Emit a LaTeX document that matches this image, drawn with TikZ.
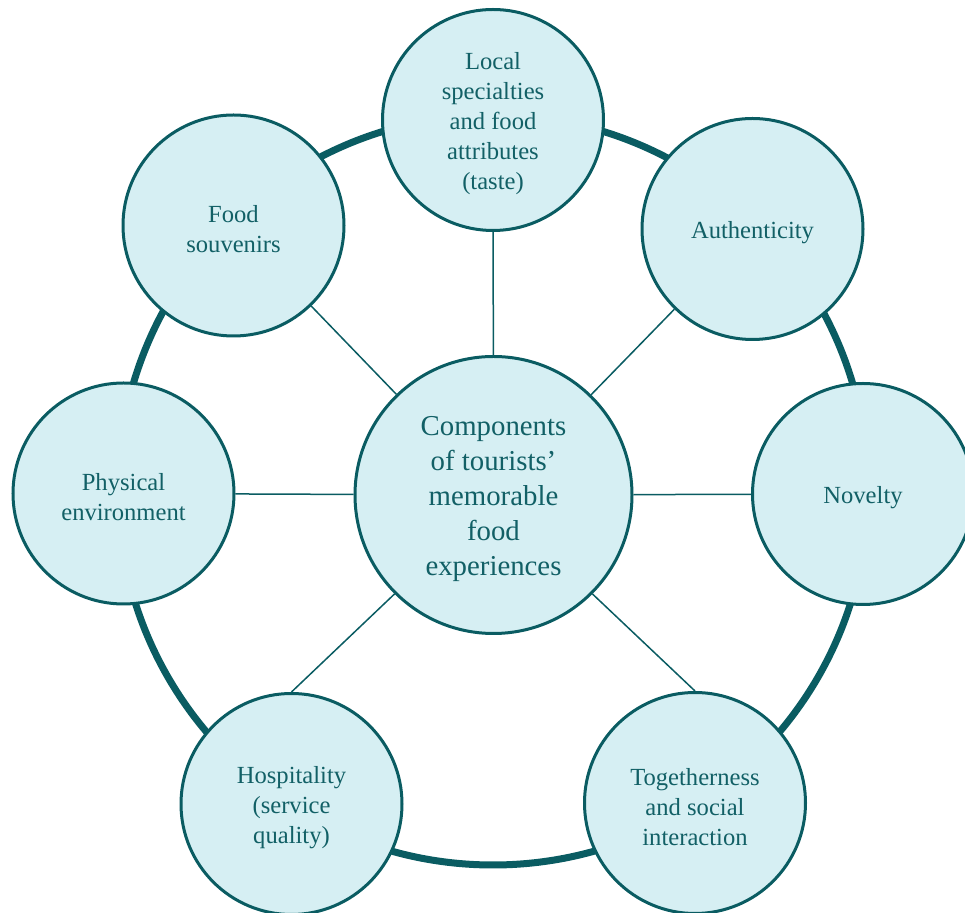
\documentclass[tikz,border=0pt]{standalone}
\usepackage{fontspec}
\setmainfont{Liberation Serif}
\usetikzlibrary{backgrounds}
\definecolor{teal}{RGB}{10,92,98}
\definecolor{tealtext}{RGB}{18,96,102}
\definecolor{paleblue}{RGB}{214,239,243}
\begin{document}
\begin{tikzpicture}[x=0.5pt,y=-0.5pt,
  bubble/.style={circle,draw=teal,fill=paleblue,line width=1.5pt,inner sep=0pt},
  hub/.style={bubble,minimum size=138.5pt},
  part/.style={bubble,minimum size=110.5pt},
  hubtext/.style={align=center,text=tealtext,inner sep=0pt,
    font=\fontsize{14.4}{17.4}\selectfont},
  parttext/.style={align=center,text=tealtext,inner sep=0pt,
    font=\fontsize{12.3}{15}\selectfont},
  spoke/.style={draw=teal,line width=0.75pt},
  ring/.style={draw=teal,line width=3.5pt}]
\useasboundingbox (0,0) rectangle (965,913);
% centre
\node[hub] (c) at (493.5,495) {};
\node[hubtext] (ct) at ([yshift=-2pt]c.center) {Components\\of tourists'\\memorable\\food\\experiences};
% surrounding components
\node[part] (local) at (493,120) {};
\node[part] (auth) at (752.5,229) {};
\node[part] (nov) at (863,494) {};
\node[part] (tog) at (695,803) {};
\node[part] (hosp) at (291.5,804) {};
\node[part] (phys) at (123.5,493.5) {};
\node[part] (souv) at (233.5,225.5) {};
\node[parttext] (localt) at ([yshift=-2pt]local.center) {Local\\specialties\\and food\\attributes\\(taste)};
\node[parttext] (autht) at ([yshift=-2pt]auth.center) {Authenticity};
\node[parttext] (novt) at ([yshift=-2pt]nov.center) {Novelty};
\node[parttext] (togt) at ([yshift=-2pt]tog.center) {Togetherness\\and social\\interaction};
\node[parttext] (hospt) at ([yshift=-2pt]hosp.center) {Hospitality\\(service\\quality)};
\node[parttext] (physt) at ([yshift=-2pt]phys.center) {Physical\\environment};
\node[parttext] (souvt) at ([yshift=-2pt]souv.center) {Food\\souvenirs};
\coordinate (rc) at (493,490);
\begin{pgfonlayer}{background}
  \draw[ring] (rc) circle[radius=187.5pt];
  \foreach \n in {local,auth,nov,phys,souv}
    \draw[spoke] (c) -- (\n);
  \draw[spoke] (c.-45) -- (tog.north);
  \draw[spoke] (c.-135) -- (hosp.north);
\end{pgfonlayer}
\end{tikzpicture}
\end{document}
